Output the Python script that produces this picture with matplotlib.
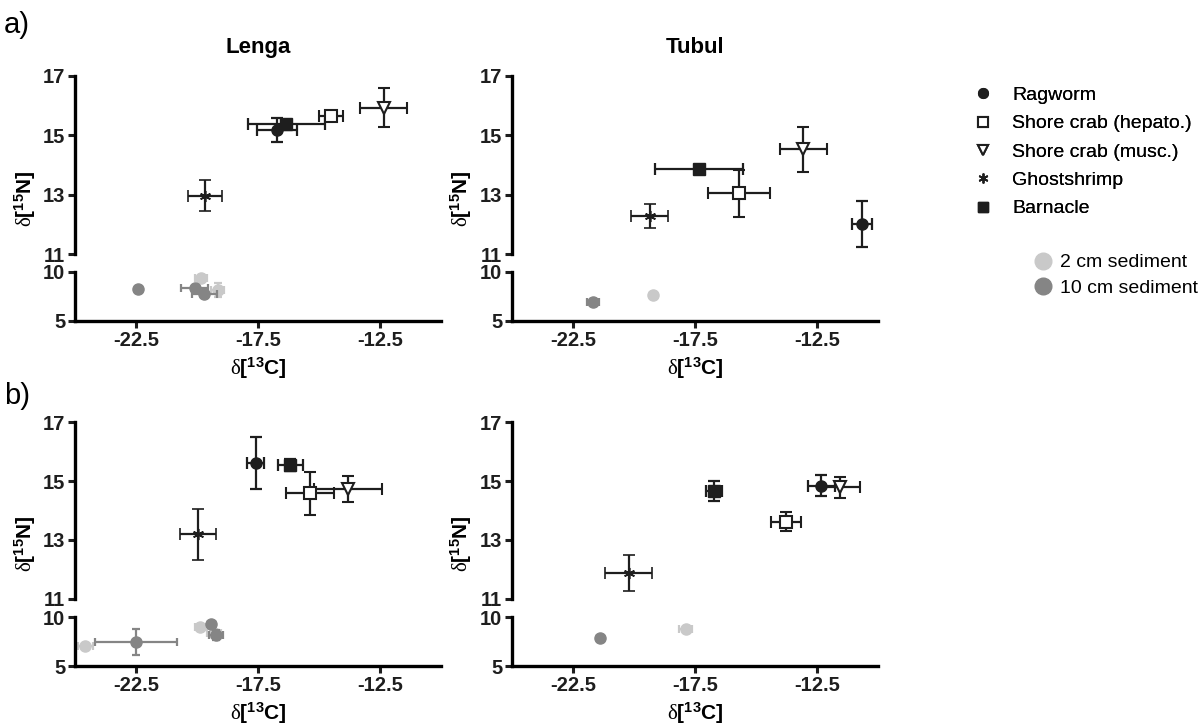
import matplotlib
matplotlib.use("Agg")
import matplotlib.pyplot as plt
from matplotlib.lines import Line2D

plt.rcParams['font.family'] = ['Liberation Sans', 'DejaVu Sans']
plt.rcParams['mathtext.fontset'] = 'custom'
plt.rcParams['mathtext.it'] = 'Liberation Serif'
plt.rcParams['mathtext.rm'] = 'Liberation Serif'
plt.rcParams['mathtext.bf'] = 'Liberation Sans:bold'
plt.rcParams['axes.unicode_minus'] = False

# species order: Ragworm, Shore crab (hepato.), Shore crab (musc.), Ghostshrimp, Barnacle
species = ["Ragworm", "Shore crab (hepato.)", "Shore crab (musc.)", "Ghostshrimp", "Barnacle"]

lenga_a_x = [-16.73, -14.52, -12.34, -19.67, -16.34]
lenga_a_y = [15.18, 15.65, 15.93, 12.97, 15.38]
lenga_a_xerr = [0.82, 0.49, 0.96, 0.69, 1.57]
lenga_a_yerr = [0.42, 0.10, 0.66, 0.52, 0.15]

tubul_a_x = [-10.65, -15.68, -13.06, -19.36, -17.34]
tubul_a_y = [12.02, 13.04, 14.53, 12.27, 13.88]
tubul_a_xerr = [0.40, 1.27, 0.95, 0.75, 1.82]
tubul_a_yerr = [0.77, 0.80, 0.75, 0.41, 0.10]

lenga_b_x = [-17.60, -15.37, -13.82, -19.96, -16.17]
lenga_b_y = [15.61, 14.58, 14.72, 13.19, 15.53]
lenga_b_xerr = [0.36, 1.00, 1.40, 0.74, 0.50]
lenga_b_yerr = [0.87, 0.72, 0.44, 0.86, 0.20]

tubul_b_x = [-12.33, -13.78, -11.55, -20.22, -16.74]
tubul_b_y = [14.84, 13.62, 14.78, 11.87, 14.66]
tubul_b_xerr = [0.56, 0.61, 0.80, 0.97, 0.33]
tubul_b_yerr = [0.36, 0.32, 0.37, 0.61, 0.34]

# sediment samples: depth (cm), x, y, xerr, yerr
lenga_a_sed_depth = [2, 2, 10, 10, 10]
lenga_a_sed_x = [-19.85, -19.16, -22.40, -20.10, -19.70]
lenga_a_sed_y = [9.36, 8.16, 8.23, 8.34, 7.72]
lenga_a_sed_xerr = [0.25, 0.25, 0.10, 0.55, 0.50]
lenga_a_sed_yerr = [0.20, 0.75, 0.10, 0.20, 0.20]

tubul_a_sed_depth = [2, 10]
tubul_a_sed_x = [-19.24, -21.67]
tubul_a_sed_y = [7.67, 6.98]
tubul_a_sed_xerr = [0.10, 0.25]
tubul_a_sed_yerr = [0.10, 0.30]

lenga_b_sed_depth = [2, 2, 2, 10, 10, 10]
lenga_b_sed_x = [-24.58, -19.87, -19.30, -22.50, -19.41, -19.22]
lenga_b_sed_y = [7.03, 9.03, 8.40, 7.48, 9.30, 8.17]
lenga_b_sed_xerr = [0.30, 0.20, 0.30, 1.68, 0.15, 0.30]
lenga_b_sed_yerr = [0.15, 0.15, 0.30, 1.33, 0.20, 0.50]

tubul_b_sed_depth = [2, 10]
tubul_b_sed_x = [-17.89, -21.41]
tubul_b_sed_y = [8.79, 7.83]
tubul_b_sed_xerr = [0.27, 0.10]
tubul_b_sed_yerr = [0.10, 0.10]

xticks = [-22.5, -17.5, -12.5]

ink = '#1e1e1e'
sed_col = {2: '#c9c9c9', 10: '#858585'}
styles = [dict(marker='o', mfc=ink, mec=ink, ms=8),
          dict(marker='s', mfc='white', mec=ink, ms=8, mew=1.5),
          dict(marker='v', mfc='white', mec=ink, ms=9, mew=1.5),
          dict(marker=(6, 2, 0), mfc=ink, mec=ink, ms=8, mew=1.2),
          dict(marker='s', mfc=ink, mec=ink, ms=8)]

fig = plt.figure(figsize=(12.02, 7.27), dpi=100)

col_left = [0.0624, 0.426]
width = 0.3045
rows = [(0.6506, 0.2449, 0.5585, 0.0674), (0.1761, 0.2434, 0.0839, 0.0674)]

panels = [
    [(lenga_a_x, lenga_a_y, lenga_a_xerr, lenga_a_yerr,
      lenga_a_sed_depth, lenga_a_sed_x, lenga_a_sed_y, lenga_a_sed_xerr, lenga_a_sed_yerr),
     (tubul_a_x, tubul_a_y, tubul_a_xerr, tubul_a_yerr,
      tubul_a_sed_depth, tubul_a_sed_x, tubul_a_sed_y, tubul_a_sed_xerr, tubul_a_sed_yerr)],
    [(lenga_b_x, lenga_b_y, lenga_b_xerr, lenga_b_yerr,
      lenga_b_sed_depth, lenga_b_sed_x, lenga_b_sed_y, lenga_b_sed_xerr, lenga_b_sed_yerr),
     (tubul_b_x, tubul_b_y, tubul_b_xerr, tubul_b_yerr,
      tubul_b_sed_depth, tubul_b_sed_x, tubul_b_sed_y, tubul_b_sed_xerr, tubul_b_sed_yerr)],
]

ylab = r'$\delta\mathbf{[^{15}N]}$'
xlab = r'$\delta\mathbf{[^{13}C]}$'
ylab_x = [25 / 1202, 461 / 1202]

for r, (tb, th, bb, bh) in enumerate(rows):
    for c, left in enumerate(col_left):
        x, y, xe, ye, sd, sx, sy, sxe, sye = panels[r][c]
        top = fig.add_axes([left, tb, width, th])
        bot = fig.add_axes([left, bb, width, bh])

        for i in range(len(x)):
            top.errorbar(x[i], y[i], xerr=xe[i], yerr=ye[i], color=ink, ecolor=ink,
                         elinewidth=1.6, capsize=4, capthick=1.6, ls='none', zorder=3,
                         **styles[i])
        for i in range(len(sx)):
            col = sed_col[sd[i]]
            bot.errorbar(sx[i], sy[i], xerr=sxe[i], yerr=sye[i], fmt='o', color=col,
                         ecolor=col, ms=8, elinewidth=1.6, capsize=3, capthick=1.6,
                         zorder=3 if sd[i] == 10 else 2)

        for ax in (top, bot):
            ax.set_xlim(-25, -10)
            ax.spines['top'].set_visible(False)
            ax.spines['right'].set_visible(False)
            ax.spines['left'].set_linewidth(2.4)
            ax.spines['bottom'].set_linewidth(2.4)
            ax.tick_params(width=2.2, length=5, labelsize=14.5, colors=ink, pad=2)
            ax.patch.set_alpha(0)
        top.set_ylim(11, 17)
        top.set_yticks([11, 13, 15, 17])
        top.spines['bottom'].set_visible(False)
        top.set_xticks([])
        bot.set_ylim(5, 10)
        bot.set_yticks([5, 10])
        bot.set_xticks(xticks)
        bot.set_xticklabels(['-22.5', '-17.5', '-12.5'])
        for ax in (top, bot):
            for lab in ax.get_xticklabels() + ax.get_yticklabels():
                lab.set_fontweight('bold')

        # y label centred on the whole broken axis
        fig.text(ylab_x[c], bb + (tb + th - bb) / 2, ylab, rotation=90,
                 ha='center', va='center', fontsize=15)
        bot.set_xlabel(xlab, fontsize=15, labelpad=4)

fig.text(0.2147, 0.934, 'Lenga', ha='center', va='center', fontsize=16, fontweight='bold')
fig.text(0.5782, 0.934, 'Tubul', ha='center', va='center', fontsize=16, fontweight='bold')
fig.text(0.003, 0.966, 'a)', ha='left', va='center', fontsize=21)
fig.text(0.003, 0.455, 'b)', ha='left', va='center', fontsize=21)

# legends
sp_handles = [Line2D([], [], ls='none', color=ink, **dict(s, ms=7)) for s in styles]
leg1 = fig.legend(sp_handles, species, loc='upper left', bbox_to_anchor=(0.795, 0.905),
                  frameon=False, fontsize=14, handlelength=1.0, handletextpad=1.0,
                  labelspacing=0.55)
sed_handles = [Line2D([], [], ls='none', marker='o', color=sed_col[d], ms=12) for d in (2, 10)]
fig.legend(sed_handles, ['2 cm sediment', '10 cm sediment'], loc='upper left',
           bbox_to_anchor=(0.845, 0.675), frameon=False, fontsize=14,
           handlelength=1.0, handletextpad=0.4, labelspacing=0.4)
fig.add_artist(leg1)

fig.savefig('out.png', dpi=100)
